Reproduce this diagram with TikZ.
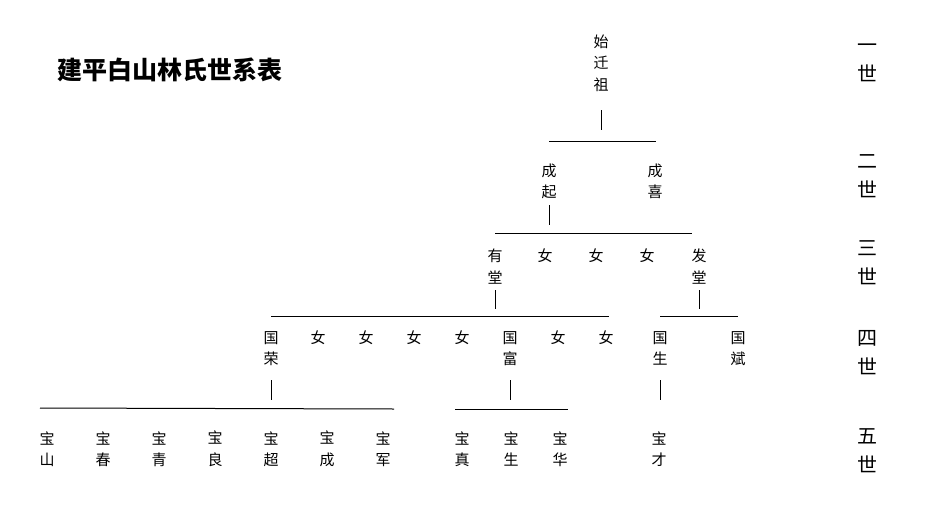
\documentclass[tikz,border=0pt]{standalone}
\usepackage{fontspec}
\setmainfont{Noto Sans CJK SC}
\usepackage{tikz}

\begin{document}
\begin{tikzpicture}[x=1pt,y=-1pt,line width=1pt]

\tikzstyle{every node}=[font=\fontsize{15}{21.5}\selectfont, inner sep=0pt, align=center]
\tikzstyle{gen}=[font=\fontsize{20}{29}\selectfont]

\useasboundingbox (0,0) rectangle (932,525);

\node[font=\fontsize{25}{30}\selectfont\bfseries] (title) at (170,70) {建平白山林氏世系表};

% generations
\node[gen] (g1) at (867,62.5) {一\\世};
\node[gen] (g2) at (867,176.5) {二\\世};
\node[gen] (g3) at (867,262.5) {三\\世};
\node[gen] (g4) at (867,352.5) {四\\世};
\node[gen] (g5) at (867,450.5) {五\\世};

\coordinate (bar1) at (0,141);
\coordinate (bar2) at (0,233);
\coordinate (bar3) at (0,316);
\coordinate (bar4) at (0,408);

% first
\node (shizu) at (601,63) {始\\迁\\祖};

% second
\node (chengqi) at (549,181.5) {成\\起};
\node (chengxi) at (655,181.5) {成\\喜};

% third
\node (youtang) at (495,266.5) {有\\堂};
\node (nv31) at (545,256) {女};
\node (nv32) at (596,256) {女};
\node (nv33) at (647,256) {女};
\node (fatang) at (699,266.5) {发\\堂};

% fourth
\node (rong) at (271,348.5) {国\\荣};
\node (nv41) at (318,338) {女};
\node (nv42) at (366,338) {女};
\node (nv43) at (414,338) {女};
\node (nv44) at (462,338) {女};
\node (fu) at (510,348.5) {国\\富};
\node (nv45) at (558,338) {女};
\node (nv46) at (606,338) {女};
\node (sheng) at (660,348.5) {国\\生};
\node (bin) at (738,348.5) {国\\斌};

% fifth
\node (shan) at (47,449) {宝\\山};
\node (chun) at (103,449) {宝\\春};
\node (qing) at (159,449) {宝\\青};
\node (liang) at (215,449) {宝\\良};
\node (chao) at (271,449) {宝\\超};
\node (cheng) at (327,449) {宝\\成};
\node (jun) at (383,449) {宝\\军};
\node (zhen) at (462,449) {宝\\真};
\node (bsheng) at (511,449) {宝\\生};
\node (hua) at (560,449) {宝\\华};
\node (cai) at (659,449) {宝\\才};

% stems
\draw (shizu.center) ++(0,47) -- ++(0,20);
\draw (chengqi.center) ++(0,23.5) -- ++(0,20);
\draw (youtang.center) ++(0,23.5) -- ++(0,19);
\draw (fatang.center) ++(0,23.5) -- ++(0,19);
\draw (rong.center) ++(0,31.5) -- ++(0,20);
\draw (fu.center) ++(0,31.5) -- ++(0,20);
\draw (sheng.center) ++(0,31.5) -- ++(0,20);

% bars
\draw (chengqi |- bar1) -- ([xshift=1pt]chengxi |- bar1);
\draw (youtang |- bar2) -- ([xshift=-7pt]fatang |- bar2);
\draw (rong |- bar3) -- ([xshift=3pt]nv46 |- bar3);
\draw (sheng |- bar3) -- (bin |- bar3);
\draw ([xshift=-7pt]shan |- bar4) -- ([xshift=11pt,yshift=-1pt]jun |- bar4);
\draw ([xshift=-7pt,yshift=-1pt]zhen |- bar4) -- ([xshift=8pt,yshift=-1pt]hua |- bar4);

\end{tikzpicture}
\end{document}
